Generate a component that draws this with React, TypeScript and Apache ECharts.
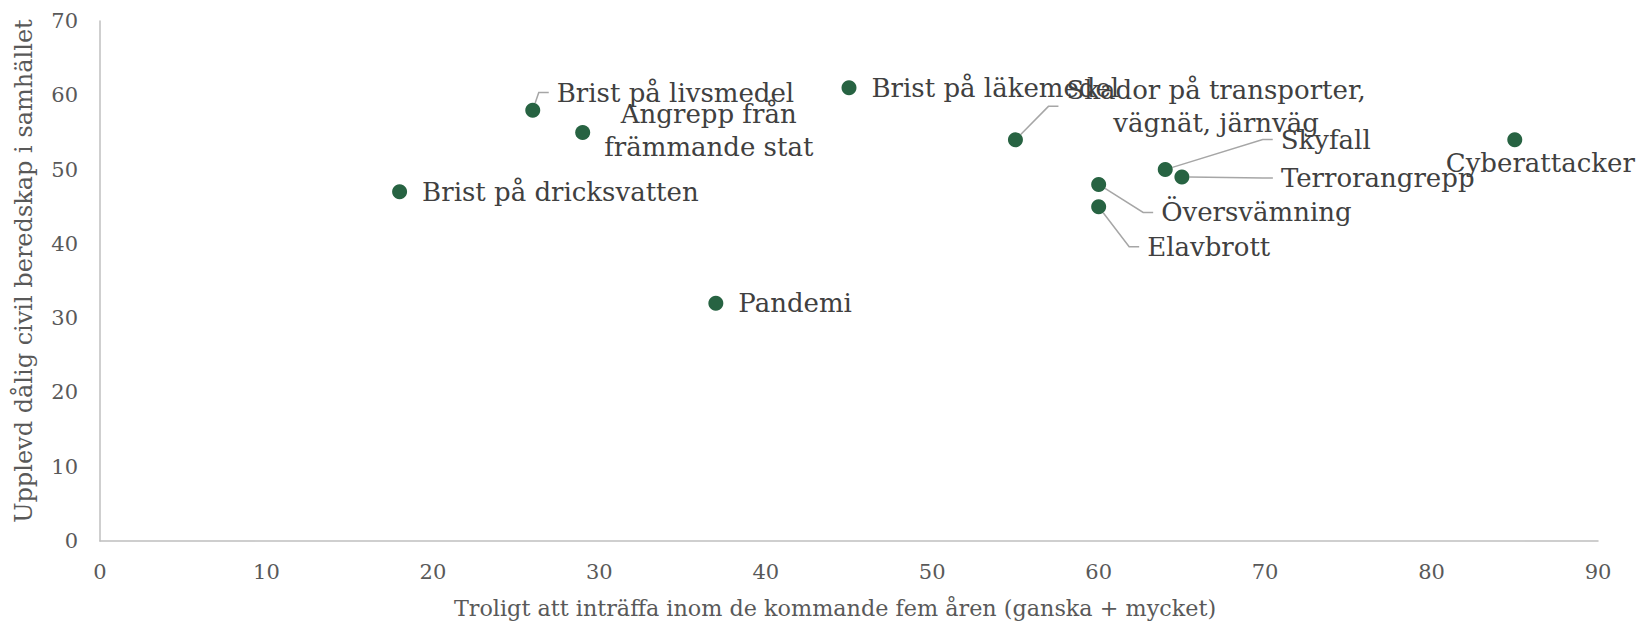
import React, { useEffect, useRef } from "react";
import * as echarts from "echarts";

const NAMES = [
  "Brist på dricksvatten",
  "Brist på livsmedel",
  "Angrepp från\nfrämmande stat",
  "Pandemi",
  "Brist på läkemedel",
  "Skador på transporter,\nvägnät, järnväg",
  "Skyfall",
  "Terrorangrepp",
  "Översvämning",
  "Elavbrott",
  "Cyberattacker",
];
const X_VALUES = [18, 26, 29, 37, 45, 55, 64, 65, 60, 60, 85];
const Y_VALUES = [47, 58, 55, 32, 61, 54, 50, 49, 48, 45, 54];

const X_TITLE = "Troligt att inträffa inom de kommande fem åren (ganska + mycket)";
const Y_TITLE = "Upplevd dålig civil beredskap i samhället";

// label placement (px shift from default "right" position), null = default
const LABEL_SHIFT: ([number, number] | null)[] = [
  null,
  [1.5, -17.6],
  [-1, -1.6],
  null,
  null,
  [28.5, -33.5],
  [93, -30],
  [76.5, 1],
  [40, 28],
  [26, 40],
  [-91.5, 23],
];
const CENTERED = [2, 5];
const WITH_LINE = [1, 5, 6, 7, 8, 9];

const FONT = "DejaVu Serif";

export default function App() {
  const ref = useRef<HTMLDivElement>(null);
  useEffect(() => {
    if (!ref.current) return;
    const chart = echarts.init(ref.current, null, { renderer: "svg" });
    const data = NAMES.map((n, i) => ({
      name: n,
      value: [X_VALUES[i], Y_VALUES[i]],
      label: CENTERED.includes(i) ? { align: "center" } : {},
      labelLine: { show: WITH_LINE.includes(i) },
    }));
    chart.setOption({
      animation: false,
      grid: { left: 100, right: 39, top: 21, bottom: 82 },
      xAxis: {
        type: "value",
        min: 0,
        max: 90,
        interval: 10,
        axisLine: { show: true, lineStyle: { color: "#bfbfbf", width: 1.5 } },
        axisTick: { show: false },
        splitLine: { show: false },
        axisLabel: { color: "#595959", fontSize: 21, fontFamily: FONT, margin: 20 },
        name: X_TITLE,
        nameLocation: "middle",
        nameGap: 56,
        nameTextStyle: {
          color: "#595959",
          fontSize: 22.3,
          fontFamily: FONT,
          padding: [0, 28, 0, 0],
        },
      },
      yAxis: {
        type: "value",
        min: 0,
        max: 70,
        interval: 10,
        axisLine: { show: true, lineStyle: { color: "#bfbfbf", width: 1.5 } },
        axisTick: { show: false },
        splitLine: { show: false },
        axisLabel: { color: "#595959", fontSize: 21, fontFamily: FONT, margin: 22 },
        name: Y_TITLE,
        nameLocation: "middle",
        nameGap: 64,
        nameTextStyle: {
          color: "#595959",
          fontSize: 24,
          fontFamily: FONT,
          padding: [0, 0, 0, 20],
        },
      },
      series: [
        {
          type: "scatter",
          symbolSize: 15,
          itemStyle: { color: "#276342", opacity: 1 },
          data,
          label: {
            show: true,
            position: "right",
            distance: 7,
            padding: [0, 8],
            formatter: "{b}",
            color: "#404040",
            fontSize: 26,
            lineHeight: 33,
            fontFamily: FONT,
          },
          labelLine: {
            show: true,
            length2: 10,
            lineStyle: { color: "#a6a6a6", width: 1.5 },
          },
          labelLayout: (p: any) => {
            const s = LABEL_SHIFT[p.dataIndex];
            if (!s) return {};
            const extra = CENTERED.includes(p.dataIndex) ? p.labelRect.width / 2 : 0;
            return { dx: s[0] + extra, dy: s[1] };
          },
        },
      ],
    });
    return () => chart.dispose();
  }, []);
  return (
    <div
      ref={ref}
      style={{ position: "fixed", left: 0, top: 0, width: 1637, height: 624, background: "#fff" }}
    />
  );
}
